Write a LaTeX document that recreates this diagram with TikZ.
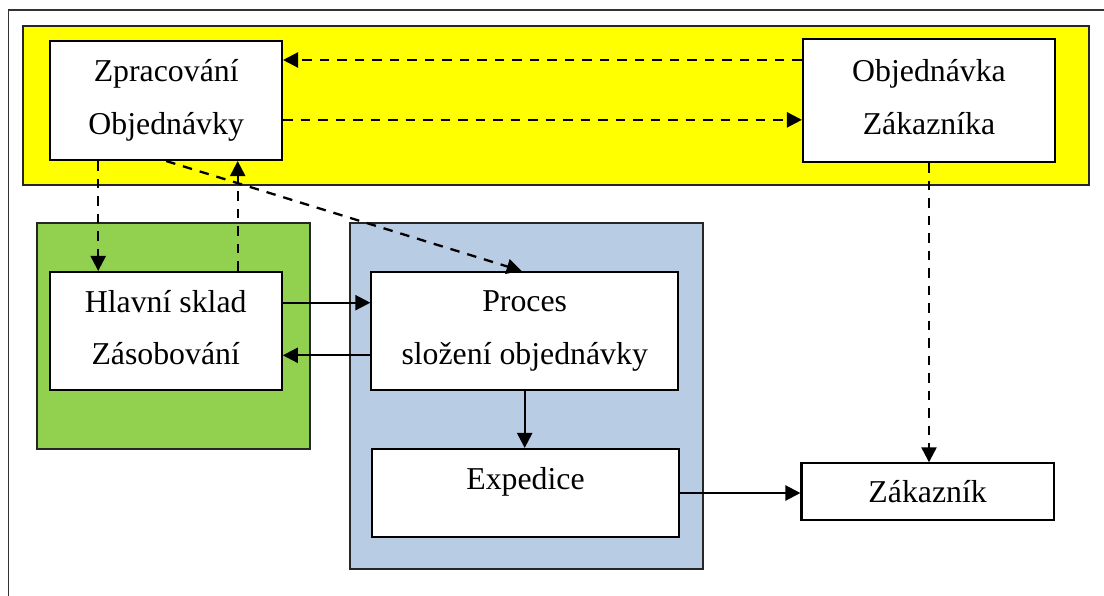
\documentclass[tikz,border=0pt]{standalone}
\usepackage{fontspec}
\setmainfont{Liberation Serif}
\usetikzlibrary{arrows.meta}
\definecolor{orderyellow}{RGB}{255,255,0}
\definecolor{stockgreen}{RGB}{146,208,80}
\definecolor{processblue}{RGB}{184,204,228}
\begin{document}
\begin{tikzpicture}[x=1pt,y=-1pt,
  group/.style={draw=black!85, line width=1.8pt, inner sep=0pt},
  box/.style={draw=black, fill=white, line width=2.1pt, inner sep=0pt,
    align=center, font=\fontsize{31.8}{52.5}\selectfont},
  flow/.style={line width=2.3pt, -{Triangle[length=15pt,width=15pt]}},
  info/.style={flow, dash pattern=on 9.5pt off 8pt}]
\useasboundingbox (0,0) rectangle (1104,596);

% page frame (top and left edges only)
\draw[black!80, line width=1.5pt] (8.6,596) -- (8.6,10) -- (1104,10);

% coloured groups
\node[group, fill=orderyellow, minimum width=1065.8pt, minimum height=159pt]
  (orders) at (556.1,105.5) {};
\node[group, fill=stockgreen, minimum width=272.9pt, minimum height=226.6pt]
  (stock) at (173.55,336) {};
\node[group, fill=processblue, minimum width=353.4pt, minimum height=346.6pt]
  (process) at (526.3,396) {};

% process boxes
\node[box, minimum width=231.6pt, minimum height=119.3pt]
  (zprac) at (166.2,100.35) {Zpracování\\Objednávky\vphantom{y}};
\node[box, minimum width=252pt, minimum height=123pt]
  (obj) at (929,100.5) {Objednávka\\Zákazníka\vphantom{y}};
\node[box, minimum width=232.2pt, minimum height=118pt]
  (hlav) at (165.7,331) {Hlavní sklad\\Zásobování\vphantom{y}};
\node[box, minimum width=306.6pt, minimum height=118pt]
  (proc) at (524.7,331) {Proces\\složení objednávky\vphantom{y}};
\node[box, minimum width=307pt, minimum height=88pt, text height=22pt, text depth=29.4pt]
  (exped) at (525.5,493) {Expedice};
\node[box, minimum width=252.2pt, minimum height=56.7pt]
  (zak) at (927.6,491.7) {Zákazník};

% information flows (dashed)
\draw[info] ([yshift=40.5pt]obj.west) -- ([yshift=40.5pt]obj.west -| zprac.east);
\draw[info] ([yshift=-19.5pt]zprac.east) -- ([yshift=-19.5pt]zprac.east -| obj.west);
\draw[info] ([xshift=-68pt]zprac.south) -- ([xshift=-68pt]zprac.south |- hlav.north);
\draw[info] ([xshift=72pt]hlav.north) -- ([xshift=72pt]hlav.north |- zprac.south);
\draw[info] (zprac.south) -- ([xshift=-3pt]proc.north);
\draw[info] (obj.south) -- (obj.south |- zak.north);

% material flows (solid)
\draw[flow] ([yshift=28.3pt]hlav.east) -- ([yshift=28.3pt]hlav.east -| proc.west);
\draw[flow] ([yshift=-24.3pt]proc.west) -- ([yshift=-24.3pt]proc.west -| hlav.east);
\draw[flow] (proc.south) -- (proc.south |- exped.north);
\draw[flow] (exped.east) -- (exped.east -| zak.west);
\end{tikzpicture}
\end{document}
